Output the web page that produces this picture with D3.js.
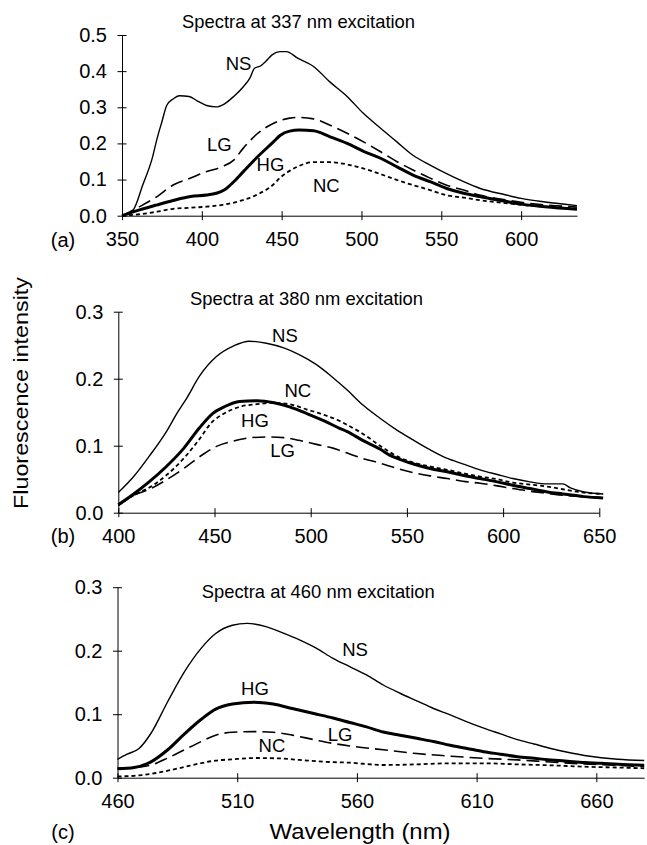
<!DOCTYPE html>
<html>
<head>
<meta charset="utf-8">
<script src="https://cdn.jsdelivr.net/npm/d3@7"></script>
<style>
  body { margin: 0; background: #fff; }
  text { font-family: "Liberation Sans", Arial, sans-serif; fill: #000; }
</style>
</head>
<body>
<script>
// donnees : [longueur d'onde, intensite]
// (a) excitation 337 nm
const aNS = [[350,0],[357,0.016],[363,0.085],[369,0.16],[372,0.214],[375,0.26],[378,0.305],[382,0.323],[386,0.332],[392,0.33],[397,0.318],[403,0.305],[409,0.301],[414,0.309],[420,0.33],[426,0.357],[430,0.38],[433,0.408],[437,0.415],[440,0.427],[444,0.445],[449,0.454],[453,0.454],[460,0.436],[470,0.413],[480,0.371],[491,0.33],[501,0.284],[512,0.242],[522,0.205],[532,0.168],[543,0.14],[553,0.117],[564,0.094],[574,0.076],[590,0.058],[600,0.048],[615,0.038],[635,0.028]];
const aLG = [[350,0],[361,0.025],[372,0.053],[382,0.085],[393,0.104],[403,0.122],[413,0.136],[420,0.154],[426,0.187],[434,0.224],[445,0.256],[455,0.27],[460,0.272],[470,0.268],[480,0.251],[491,0.228],[501,0.205],[512,0.177],[522,0.15],[532,0.127],[543,0.104],[553,0.085],[564,0.071],[574,0.057],[590,0.044],[600,0.037],[615,0.03],[635,0.024]];
const aHG = [[350,0],[361,0.016],[372,0.03],[382,0.042],[393,0.053],[403,0.057],[409,0.062],[414,0.071],[420,0.094],[426,0.122],[434,0.159],[445,0.205],[449,0.222],[455,0.234],[461,0.237],[470,0.235],[480,0.219],[491,0.2],[501,0.179],[512,0.159],[522,0.136],[532,0.113],[543,0.094],[553,0.076],[564,0.062],[574,0.053],[590,0.04],[600,0.032],[615,0.025],[635,0.018]];
const aNC = [[350,0],[361,0.004],[372,0.011],[382,0.019],[393,0.022],[403,0.025],[413,0.03],[424,0.041],[434,0.057],[445,0.087],[449,0.105],[455,0.124],[460,0.136],[470,0.148],[480,0.148],[491,0.142],[501,0.131],[512,0.115],[522,0.099],[532,0.085],[543,0.071],[553,0.057],[564,0.05],[574,0.043],[590,0.035],[600,0.03],[615,0.025],[635,0.02]];
// (b) excitation 380 nm
const bNS = [[400,0.03],[408,0.054],[416,0.084],[425,0.121],[430,0.146],[436,0.173],[442,0.203],[451,0.233],[460,0.249],[468,0.256],[477,0.253],[486,0.246],[494,0.236],[503,0.221],[511,0.203],[519,0.183],[527,0.161],[536,0.141],[545,0.123],[553,0.109],[562,0.094],[571,0.081],[579,0.073],[588,0.064],[597,0.057],[605,0.051],[614,0.046],[623,0.043],[631,0.043],[635,0.037],[642,0.031],[652,0.028]];
const bHG = [[400,0.012],[408,0.028],[416,0.046],[425,0.069],[434,0.096],[442,0.126],[449,0.148],[455,0.158],[463,0.166],[472,0.167],[481,0.164],[489,0.158],[498,0.148],[507,0.137],[515,0.126],[519,0.121],[527,0.108],[536,0.095],[541,0.086],[545,0.081],[553,0.073],[562,0.066],[571,0.061],[579,0.056],[588,0.051],[597,0.046],[605,0.041],[614,0.036],[623,0.031],[631,0.028],[642,0.024],[652,0.022]];
const bNC = [[400,0.011],[408,0.026],[417,0.039],[425,0.056],[434,0.081],[443,0.113],[448,0.133],[455,0.148],[463,0.158],[472,0.162],[481,0.164],[489,0.162],[498,0.154],[507,0.146],[515,0.137],[519,0.131],[527,0.118],[536,0.1],[545,0.084],[553,0.075],[562,0.069],[571,0.064],[579,0.059],[588,0.054],[597,0.05],[605,0.045],[614,0.042],[623,0.039],[631,0.035],[642,0.03],[652,0.028]];
const bLG = [[400,0.011],[408,0.026],[417,0.036],[425,0.049],[434,0.066],[443,0.085],[451,0.099],[460,0.107],[469,0.112],[477,0.113],[486,0.112],[494,0.108],[503,0.102],[512,0.096],[519,0.089],[527,0.081],[536,0.074],[545,0.066],[553,0.06],[562,0.055],[571,0.051],[579,0.047],[588,0.044],[597,0.04],[605,0.036],[614,0.032],[623,0.029],[631,0.026],[642,0.024],[652,0.023]];
// (c) excitation 460 nm
const cNS = [[460,0.029],[464,0.037],[469,0.046],[474,0.07],[481,0.12],[488,0.167],[495,0.204],[501,0.227],[508,0.24],[514,0.243],[522,0.238],[529,0.228],[536,0.217],[543,0.204],[550,0.188],[557,0.175],[564,0.162],[571,0.146],[578,0.133],[585,0.121],[592,0.109],[599,0.099],[606,0.088],[613,0.078],[620,0.069],[627,0.06],[634,0.053],[641,0.046],[648,0.04],[655,0.035],[662,0.0315],[669,0.029],[680,0.027]];
const cHG = [[460,0.014],[467,0.016],[474,0.025],[481,0.044],[488,0.069],[495,0.092],[501,0.108],[508,0.116],[517,0.119],[525,0.116],[533,0.109],[542,0.101],[550,0.094],[557,0.087],[564,0.08],[571,0.072],[578,0.067],[585,0.062],[592,0.057],[599,0.051],[606,0.046],[613,0.041],[620,0.037],[627,0.033],[634,0.0305],[641,0.028],[648,0.026],[655,0.024],[662,0.0227],[669,0.021],[680,0.0195]];
const cLG = [[460,0.015],[467,0.016],[474,0.02],[481,0.031],[488,0.044],[495,0.057],[501,0.067],[508,0.0715],[517,0.0725],[525,0.0715],[533,0.067],[542,0.06],[550,0.054],[557,0.05],[571,0.044],[585,0.038],[599,0.034],[613,0.0305],[627,0.028],[641,0.0247],[655,0.0216],[669,0.0195],[680,0.0173]];
const cNC = [[460,0.002],[467,0.003],[474,0.006],[481,0.011],[488,0.017],[495,0.023],[501,0.027],[508,0.029],[518,0.031],[527,0.0305],[536,0.028],[547,0.025],[557,0.0236],[571,0.02],[585,0.021],[599,0.0227],[613,0.0227],[627,0.021],[641,0.0195],[655,0.0173],[669,0.016],[680,0.0148]];

// graduations
const aXTicks = [350,400,450,500,550,600];
const aYTicks = [0,0.1,0.2,0.3,0.4,0.5];
const bXTicks = [400,450,500,550,600,650];
const bYTicks = [0,0.1,0.2,0.3];
const cXTicks = [460,510,560,610,660];
const cYTicks = [0,0.1,0.2,0.3];

// styles des courbes
const styles = {
  NS: {w: 1.4, dash: null},
  HG: {w: 3, dash: null},
  LG: {w: 1.6, dash: '13,6'},
  NC: {w: 1.8, dash: '4,3'}
};

const svg = d3.select('body')
  .append('svg')
  .attr('width', 647)
  .attr('height', 845);

const panneaux = [
  {
    titre: 'Spectra at 337 nm excitation', tx: 182, ty: 28, lettre: '(a)', ly: 246.5,
    xDom: [350,635], xRange: [122,577], yDom: [0,0.5], yRange: [215.7,35],
    xTicks: aXTicks, yTicks: aYTicks,
    series: {NS: aNS, LG: aLG, HG: aHG, NC: aNC},
    etiquettes: [['NS',423,0.404],['LG',411,0.179],['HG',443,0.124],['NC',478,0.065]]
  },
  {
    titre: 'Spectra at 380 nm excitation', tx: 190, ty: 305, lettre: '(b)', ly: 543,
    xDom: [400,650], xRange: [118.3,599.3], yDom: [0,0.3], yRange: [512.7,311.7],
    xTicks: bXTicks, yTicks: bYTicks,
    series: {NS: bNS, LG: bLG, HG: bHG, NC: bNC},
    etiquettes: [['NS',486.6,0.255],['NC',493.3,0.173],['HG',471,0.128],['LG',485.4,0.083]]
  },
  {
    titre: 'Spectra at 460 nm excitation', tx: 201.7, ty: 598, lettre: '(c)', ly: 839,
    xDom: [460,680], xRange: [117.5,644.2], yDom: [0,0.3], yRange: [777.7,587.2],
    xTicks: cXTicks, yTicks: cYTicks,
    series: {NS: cNS, LG: cLG, HG: cHG, NC: cNC},
    etiquettes: [['HG',517.4,0.130],['NC',524.5,0.041],['LG',553,0.058],['NS',559.2,0.192]]
  }
];

panneaux.forEach(p => {
  const x = d3.scaleLinear().domain(p.xDom).range(p.xRange);
  const y = d3.scaleLinear().domain(p.yDom).range(p.yRange);
  const g = svg.append('g');

  // axe des x, graduations qui traversent l'axe
  const ax = g.append('g')
    .attr('transform', `translate(0,${p.yRange[0]})`)
    .call(d3.axisBottom(x).tickValues(p.xTicks).tickSizeInner(4.5).tickSizeOuter(0).tickPadding(11.5).tickFormat(d3.format('d')));
  ax.selectAll('.tick line').attr('y1', -4.5);

  const ay = g.append('g')
    .attr('transform', `translate(${p.xRange[0]},0)`)
    .call(d3.axisLeft(y).tickValues(p.yTicks).tickSizeInner(4.5).tickSizeOuter(0).tickPadding(10.5).tickFormat(d3.format('.1f')));
  ay.selectAll('.tick line').attr('x1', 4.5);

  [ax, ay].forEach(a => {
    a.select('.domain').attr('stroke', '#000').attr('stroke-width', 1);
    a.selectAll('.tick line').attr('stroke', '#000');
    a.selectAll('.tick text').attr('font-size', 20).attr('font-family', '"Liberation Sans", Arial, sans-serif').attr('fill', '#000');
  });

  // courbes
  const ligne = d3.line()
    .x(d => x(d[0]))
    .y(d => y(d[1]))
    .curve(d3.curveMonotoneX);

  ['NC','LG','NS','HG'].forEach(nom => {
    g.append('path')
      .attr('d', ligne(p.series[nom]))
      .attr('fill', 'none')
      .attr('stroke', '#000')
      .attr('stroke-width', styles[nom].w)
      .attr('stroke-dasharray', styles[nom].dash)
      .attr('stroke-linejoin', 'round');
  });

  // noms des courbes
  p.etiquettes.forEach(e => {
    g.append('text')
      .attr('x', x(e[1]))
      .attr('y', y(e[2]))
      .attr('text-anchor', 'middle')
      .attr('font-size', 18.5)
      .text(e[0]);
  });

  // titre
  g.append('text')
    .attr('x', p.tx)
    .attr('y', p.ty)
    .attr('font-size', 18.4)
    .text(p.titre);

  // lettre du panneau
  g.append('text')
    .attr('x', 63)
    .attr('y', p.ly)
    .attr('text-anchor', 'middle')
    .attr('font-size', 20)
    .text(p.lettre);
});

// titres des axes
svg.append('text')
  .attr('transform', 'translate(28,393) rotate(-90)')
  .attr('text-anchor', 'middle')
  .attr('font-size', 21)
  .attr('textLength', 232)
  .attr('lengthAdjust', 'spacingAndGlyphs')
  .text('Fluorescence intensity');

svg.append('text')
  .attr('x', 360)
  .attr('y', 839)
  .attr('text-anchor', 'middle')
  .attr('font-size', 22)
  .attr('textLength', 181)
  .attr('lengthAdjust', 'spacingAndGlyphs')
  .text('Wavelength (nm)');
</script>
</body>
</html>
